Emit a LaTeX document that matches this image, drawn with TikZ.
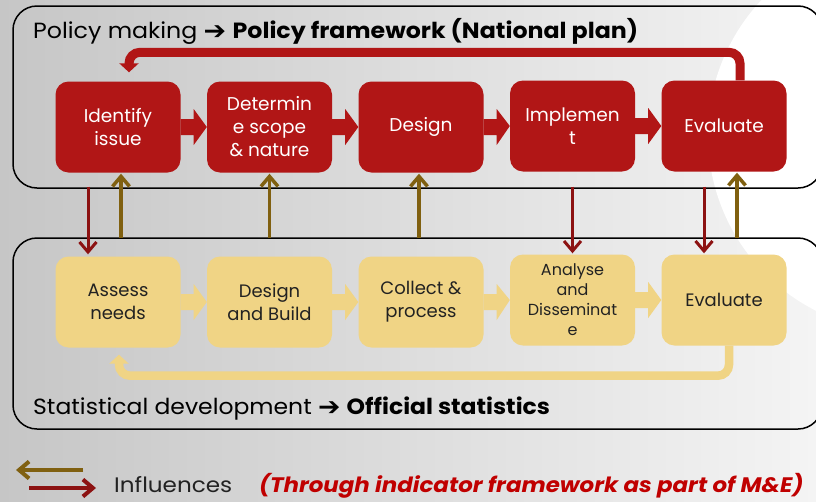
\documentclass[tikz,border=0pt]{standalone}
\usepackage{fontspec}
\setmainfont{Poppins}
\newfontfamily\symfont{DejaVu Sans}
\usetikzlibrary{arrows.meta,calc}
\definecolor{boxred}{HTML}{B11616}
\definecolor{boxyel}{HTML}{F0D485}
\definecolor{dred}{HTML}{8C1212}
\definecolor{gold}{HTML}{806010}
\definecolor{itred}{HTML}{C00000}
\definecolor{bgl}{HTML}{C6C6C6}
\definecolor{bgm}{HTML}{EBEBEB}
\definecolor{bgr}{HTML}{F4F4F4}
\definecolor{txt}{HTML}{222222}
\tikzset{
  rbox/.style={fill=boxred, rounded corners=13, minimum width=125, minimum height=91,
    text=white, font=\fontsize{18.5}{23}\selectfont, align=center, inner sep=0},
  ybox/.style={fill=boxyel, rounded corners=13, minimum width=125, minimum height=91,
    text=txt, font=\fontsize{18}{23}\selectfont, align=center, inner sep=0},
  frame/.style={draw=black, line width=1.5, rounded corners=24},
  redc/.style={draw=dred, line width=3, -{Straight Barb[length=10,width=17]}},
  goldc/.style={draw=gold, line width=3.5, -{Straight Barb[length=10,width=17]}},
  title/.style={anchor=base west, inner sep=0, text=black, font=\fontsize{22}{26}\selectfont},
}
\newcommand\chev[3]{%
  \fill[#3] ($(#1.east)+(0,-8)$) -- ++(13,0) -- ++(0,-10) -- (#2.west)
    -- ($(#1.east)+(13,18)$) -- ++(0,-10) -- ($(#1.east)+(0,8)$) -- cycle;}
\newcommand\harr{{\symfont\fontsize{25}{26}\selectfont\raisebox{-1pt}{➔}}}
\begin{document}
\begin{tikzpicture}[x=1pt,y=-1pt]
\useasboundingbox (0,0) rectangle (816,501);
\begin{scope}
\clip (0,0) rectangle (816,501);
\shade[left color=bgl, middle color=bgm, right color=bgr] (0,0) rectangle (816,501);
\fill[white] (905,135) circle (197);
% frames
\draw[frame] (13,6) rectangle (822,188);
\draw[frame] (13,238) rectangle (822,429);
\end{scope}
% titles
\node[title] (tt) at (33,38) {\scalebox{1.077}[1]{Policy making \harr\ \textbf{Policy framework (National plan)}}};
\node[title] (bt) at (33,414) {\scalebox{1.068}[1]{Statistical development \harr\ \textbf{Official statistics}}};
% top row
\node[rbox] (t1) at (118,127) {Identify\\issue};
\node[rbox] (t2) at (269.5,127) {Determin\\e scope\\\& nature};
\node[rbox] (t3) at (421,127) {Design};
\node[rbox] (t4) at (572.5,126) {Implemen\\t};
\node[rbox] (t5) at (724,126) {Evaluate};
% bottom row
\node[ybox] (b1) at (118,302) {Assess\\needs};
\node[ybox] (b2) at (269.5,302) {Design\\and Build};
\node[ybox] (b3) at (421,302) {Collect \&\\process};
\node[ybox, font=\fontsize{16}{20}\selectfont] (b4) at (572.5,300) {Analyse\\and\\Disseminat\\e};
\node[ybox] (b5) at (724,300) {Evaluate};
% chevrons
\chev{t1}{t2}{boxred}
\chev{t2}{t3}{boxred}
\chev{t3}{t4}{boxred}
\chev{t4}{t5}{boxred}
\chev{b1}{b2}{boxyel}
\chev{b2}{b3}{boxyel}
\chev{b3}{b4}{boxyel}
\chev{b4}{b5}{boxyel}
% loops
\draw[boxred, line width=9, rounded corners=11, -{Triangle[length=9,width=19]}]
  ($(t5.north)+(16,0)$) |- ($(t1.north)+(11,-29)$) -- ($(t1.north)+(11,-9)$);
\draw[boxyel, line width=8.5, rounded corners=11, -{Triangle[length=9,width=19]}]
  ($(b5.south)+(5,0)$) |- ($(b1.south)+(1,28)$) -- ($(b1.south)+(1,7)$);
% connectors
\draw[redc] ($(t1.south)+(-30,14)$) -- ($(b1.north)+(-30,-2)$);
\draw[goldc] ($(b1.north)+(3,-18)$) -- ($(t1.south)+(3,1)$);
\draw[goldc] ($(b2.north)+(0,-18)$) -- ($(t2.south)+(0,1)$);
\draw[goldc] ($(b3.north)+(-2,-18)$) -- ($(t3.south)+(-2,1)$);
\draw[redc] ($(t4.south)+(0,15)$) -- ($(b4.north)+(0,-1)$);
\draw[redc] ($(t5.south)+(-20,15)$) -- ($(b5.north)+(-20,-1)$);
\draw[goldc] ($(b5.north)+(13,-16)$) -- ($(t5.south)+(13,1)$);
% legend
\coordinate (lg1) at (83,470);
\coordinate (lg2) at (16,470);
\coordinate (lr1) at (29,488);
\coordinate (lr2) at (96,488);
\draw[goldc, line width=4] (lg1) -- (lg2);
\draw[redc, line width=4] (lr1) -- (lr2);
\node[anchor=base west, inner sep=0, text=txt, font=\fontsize{21}{24}\selectfont] (inf) at (114,492) {\scalebox{1.1}[1]{Influences}};
\node[anchor=base west, inner sep=0, text=itred, font=\fontsize{21}{24}\selectfont\bfseries\itshape] (thr) at (259,492) {\scalebox{1.09}[1]{(Through indicator framework as part of M\&E)}};
\end{tikzpicture}
\end{document}
